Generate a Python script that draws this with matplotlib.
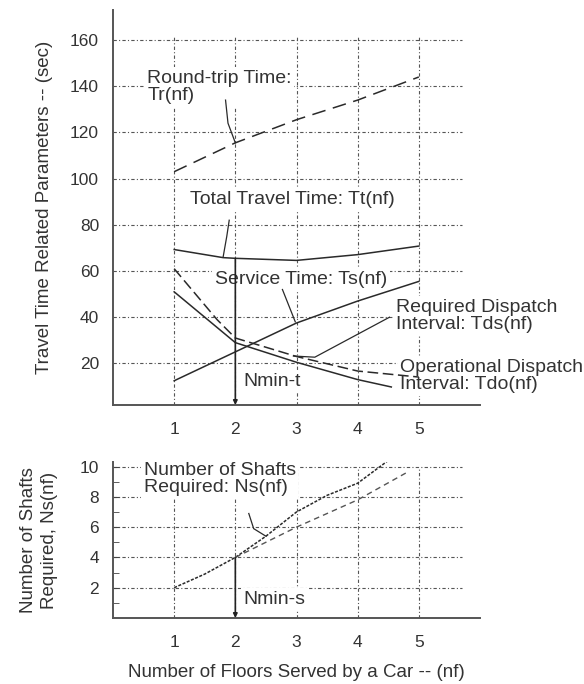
import matplotlib
matplotlib.use("Agg")
import matplotlib.pyplot as plt

plt.rcParams['font.family'] = ['Liberation Sans', 'DejaVu Sans']

# ---------------- data ----------------
x_ticks = [1, 2, 3, 4, 5]
top_yticks = [20, 40, 60, 80, 100, 120, 140, 160]
bot_yticks = [2, 4, 6, 8, 10]

tr_x = [1, 2, 3, 4, 5]
tr_y = [103, 115.5, 125.5, 134, 144]          # Round-trip time

tt_x = [1, 1.8, 2, 3, 4, 5]
tt_y = [69.3, 65.8, 65.5, 64.6, 67.1, 70.8]   # Total travel time

ts_x = [1, 2, 3, 4, 5]
ts_y = [12.5, 25, 37.5, 47, 55.5]             # Service time

tds_x = [1, 1.7, 2, 3, 4, 5]
tds_y = [61, 39, 31, 23, 16.7, 14.1]          # Required dispatch interval

tdo_x = [1, 2, 3, 4, 4.55]
tdo_y = [51, 29, 20.5, 13, 9.8]               # Operational dispatch interval

ns_x = [1, 1.5, 2, 2.5, 3, 3.5, 4, 4.5]
ns_y = [2, 2.9, 4, 5.4, 7.0, 8.1, 8.9, 10.4]  # Number of shafts required

ns2_x = [2, 3, 4, 4.8]
ns2_y = [4, 6, 7.8, 9.6]                      # second shafts curve

nmin_t = 2
nmin_s = 2

# ---------------- figure ----------------
W, H = 584, 684
fig = plt.figure(figsize=(W / 100, H / 100), dpi=100)

def ax_rect(l, r, t, b):
    return [l / W, 1 - b / H, (r - l) / W, (b - t) / H]

ax1 = fig.add_axes(ax_rect(113, 480, 10, 405))
ax2 = fig.add_axes(ax_rect(113, 480, 462, 618))

grid_kw = dict(color='#555555', lw=0.8, linestyle=(0, (3, 2, 1, 2)), zorder=1)
line_c = '#2a2a2a'
txt_c = '#333333'
fs = 14
bbox = dict(facecolor='white', edgecolor='none', pad=2)

for ax in (ax1, ax2):
    ax.set_xlim(0, 6)
    for s in ('top', 'right'):
        ax.spines[s].set_visible(False)
    for s in ('left', 'bottom'):
        ax.spines[s].set_color('#555555')
        ax.spines[s].set_linewidth(1.4)
    ax.set_xticks(x_ticks)
    ax.tick_params(axis='both', labelsize=12.5, colors=txt_c, length=0, pad=12)

# ---------- top panel ----------
ax1.set_ylim(2, 173)
ax1.set_yticks(top_yticks)
ax1.tick_params(axis='y', pad=10)
ax1.hlines(top_yticks, 0, 5.7, **grid_kw)
ax1.vlines(x_ticks, 2, 162, **grid_kw)

ax1.plot(tr_x, tr_y, color=line_c, lw=1.1, linestyle=(0, (9, 5)), zorder=3)
ax1.plot(tt_x, tt_y, color=line_c, lw=1.1, zorder=3)
ax1.plot(ts_x, ts_y, color=line_c, lw=1.1, zorder=3)
ax1.plot(tds_x, tds_y, color=line_c, lw=1.1, linestyle=(0, (7, 3)), zorder=3)
ax1.plot(tdo_x, tdo_y, color=line_c, lw=1.1, zorder=3)

ax1.annotate('', xy=(nmin_t, 2), xytext=(nmin_t, tt_y[2]),
             arrowprops=dict(arrowstyle='-|>', color='#222222', lw=1.2,
                             mutation_scale=6, shrinkA=0, shrinkB=0), zorder=4)

ax1.text(0.56, 147, 'Round-trip Time:\nTr(nf)', fontsize=fs, va='top', ha='left',
         color=txt_c, linespacing=1.0, bbox=bbox, zorder=2)
ax1.plot([1.84, 1.88, 2.0], [134, 124, 115.5], color=line_c, lw=0.9, zorder=3)

ax1.text(1.26, 91, 'Total Travel Time: Tt(nf)', fontsize=fs, va='center', ha='left',
         color=txt_c, bbox=bbox, zorder=2)
ax1.plot([1.9, 1.86, 1.8], [82, 75, 66], color=line_c, lw=0.9, zorder=3)

ax1.text(1.67, 56.5, 'Service Time: Ts(nf)', fontsize=fs, va='center', ha='left',
         color=txt_c, bbox=bbox, zorder=2)
ax1.plot([2.77, 2.98], [52, 38], color=line_c, lw=0.9, zorder=3)

ax1.text(4.62, 40.5, 'Required Dispatch\nInterval: Tds(nf)', fontsize=fs, va='center',
         ha='left', color=txt_c, linespacing=1.05, bbox=bbox, zorder=2)
ax1.plot([4.52, 3.3, 2.95], [40, 22.7, 23.2], color=line_c, lw=0.9, zorder=3)

ax1.text(4.7, 14.5, 'Operational Dispatch\nInterval: Tdo(nf)', fontsize=fs, va='center',
         ha='left', color=txt_c, linespacing=1.05, bbox=bbox, zorder=2)

ax1.text(2.13, 12, 'Nmin-t', fontsize=fs, va='center', ha='left', color=txt_c,
         bbox=bbox, zorder=2)

ax1.set_ylabel('Travel Time Related Parameters -- (sec)', fontsize=13.5,
               color=txt_c, labelpad=12)

# ---------- bottom panel ----------
ax2.set_ylim(0, 10.3)
ax2.set_yticks(bot_yticks)
ax2.set_yticks([1, 3, 5, 7, 9], minor=True)
ax2.tick_params(axis='y', which='both', direction='in', length=4, color='#444444')
ax2.tick_params(axis='y', which='major', pad=10)
ax2.hlines(bot_yticks, 0, 5.7, **grid_kw)
ax2.vlines(x_ticks, 0, 10, **grid_kw)

ax2.plot(ns_x, ns_y, color=line_c, lw=1.1, linestyle=(0, (2, 1)), zorder=3)
ax2.plot(ns2_x, ns2_y, color='#555555', lw=1.0, linestyle=(0, (4, 3)), zorder=3)

ax2.annotate('', xy=(nmin_s, 0), xytext=(nmin_s, ns_y[2]),
             arrowprops=dict(arrowstyle='-|>', color='#222222', lw=1.2,
                             mutation_scale=6, shrinkA=0, shrinkB=0), zorder=4)

ax2.text(0.5, 10.3, 'Number of Shafts\nRequired: Ns(nf)', fontsize=fs, va='top',
         ha='left', color=txt_c, linespacing=1.0, bbox=bbox, zorder=2)
ax2.plot([2.22, 2.3, 2.5], [6.9, 5.9, 5.4], color=line_c, lw=0.9, zorder=3)

ax2.text(2.13, 1.25, 'Nmin-s', fontsize=fs, va='center', ha='left', color=txt_c,
         bbox=bbox, zorder=2)

ax2.set_ylabel('Number of Shafts\nRequired, Ns(nf)', fontsize=13.5, color=txt_c,
               labelpad=16, linespacing=1.3)
ax2.set_xlabel('Number of Floors Served by a Car -- (nf)', fontsize=13.5,
               color=txt_c, labelpad=10)

fig.savefig('out.png', dpi=100, facecolor='white')
